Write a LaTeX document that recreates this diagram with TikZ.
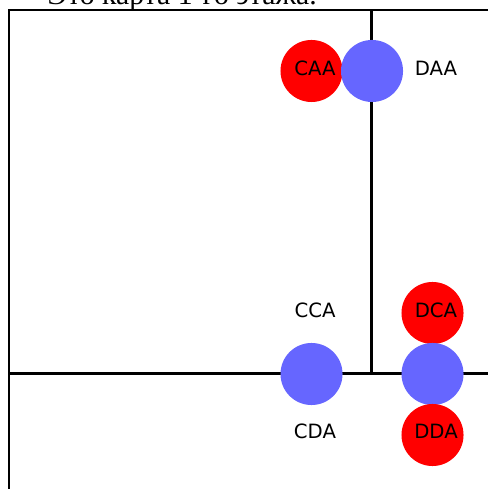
\documentclass[tikz,border=0pt]{standalone}
\usepackage{fontspec}
\setmainfont{Liberation Serif}
\newfontfamily\labelfont{DejaVu Sans}
\definecolor{mapred}{RGB}{255,0,0}
\definecolor{mapblue}{RGB}{102,102,255}
\tikzset{
    x=0.01cm, y=-0.01cm,
    wall/.style={line width=0.03cm, black},
    frame/.style={line width=0.02cm, black},
    room/.style={circle, minimum size=0.62cm, inner sep=0pt},
    redroom/.style={room, fill=mapred},
    blueroom/.style={room, fill=mapblue},
    roomlabel/.style={inner sep=0pt, font=\labelfont\fontsize{5.6}{6}\selectfont}
}
\begin{document}
\begin{tikzpicture}
        %% page
        \useasboundingbox (0,0) rectangle (488,489);
        
        %% title
        \node[anchor=base west, inner sep=0pt, font=\fontsize{8.45}{10}\selectfont] (title) at (47,4.5) {Это карта 1-го этажа.};
        
        %% walls
        \coordinate (topleft) at (9,10.5);
        \coordinate (topright) at (488,10.5);
        \coordinate (botleft) at (9,489);
        \coordinate (midleft) at (9,373.5);
        \coordinate (midright) at (488,373.5);
        \coordinate (midtop) at (371,10.5);
        \coordinate (midbot) at (371,373.5);
        \draw[frame] (botleft) -- (topleft) -- (topright);
        \draw[wall] (midleft) -- (midright);
        \draw[wall] (midtop) -- (midbot);
        
        %% rooms
        \node[redroom] (caa) at (311.5,71) {};
        \node[blueroom] (daa) at (372,71) {};
        \node[redroom] (dca) at (432.5,313) {};
        \node[blueroom] (cda) at (311.5,374) {};
        \node[blueroom] (dda) at (432.5,374) {};
        \node[redroom] (ddb) at (432.5,435) {};
        
        %% labels
        \node[roomlabel] (caatext) at (315,68) {CAA};
        \node[roomlabel] (daatext) at (436,68) {DAA};
        \node[roomlabel] (ccatext) at (315,310.5) {CCA};
        \node[roomlabel] (dcatext) at (436,310.5) {DCA};
        \node[roomlabel] (cdatext) at (315,431.5) {CDA};
        \node[roomlabel] (ddatext) at (436,431.5) {DDA};
\end{tikzpicture}
\end{document}
